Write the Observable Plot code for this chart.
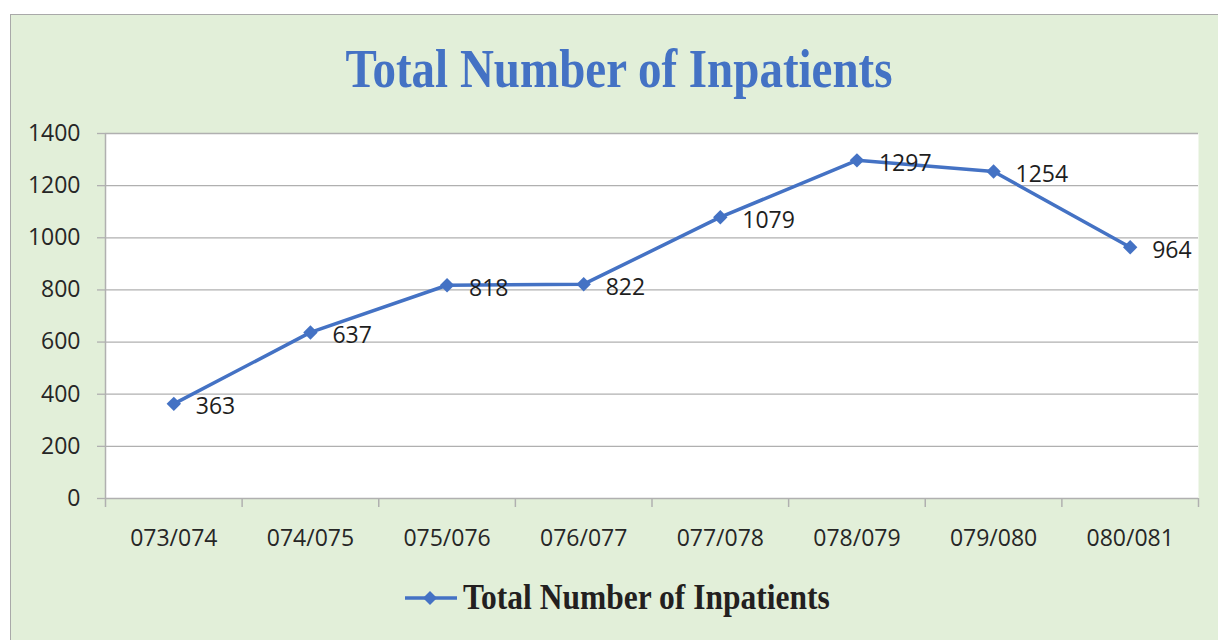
<!DOCTYPE html>
<html>
<head>
<meta charset="utf-8">
<script src="https://cdn.jsdelivr.net/npm/d3@7"></script>
<script src="https://cdn.jsdelivr.net/npm/@observablehq/plot@0.6"></script>
<style>
  html, body { margin: 0; padding: 0; background: #ffffff; width: 1218px; height: 640px; overflow: hidden; }
  #panel { position: absolute; left: 10px; top: 14px; width: 1220px; height: 640px; background: #e2efd9;
           border-left: 1.5px solid #a9a9a9; border-top: 1.5px solid #a9a9a9; }
  #title { position: absolute; left: 0; top: 48px; width: 1238px; text-align: center;
           font-family: "Liberation Serif", serif; font-weight: bold; font-size: 47px; line-height: 1;
           color: #4472c4; transform: scaleY(1.18); transform-origin: 50% 84%; white-space: nowrap; }
  #chart { position: absolute; left: 0; top: 100px; }
  #legend { position: absolute; left: 405px; top: 580px; display: flex; align-items: center; }
  #legend span { font-family: "Liberation Serif", serif; font-weight: bold; font-size: 31.5px; color: #231f20;
                 margin-left: 6px; display: inline-block; transform: scaleY(1.15); white-space: nowrap; }
</style>
</head>
<body>
<div id="panel"></div>
<div id="title">Total Number of Inpatients</div>
<div id="chart"></div>
<div id="legend">
  <svg width="52" height="16" viewBox="0 0 52 16"><line x1="0" y1="8" x2="52" y2="8" stroke="#4472c4" stroke-width="3.5"/><path d="M25,1 L32,8 L25,15 L18,8 Z" fill="#4472c4"/></svg>
  <span>Total Number of Inpatients</span>
</div>
<script>
const categories = ["073/074", "074/075", "075/076", "076/077", "077/078", "078/079", "079/080", "080/081"];
const inpatients = [363, 637, 818, 822, 1079, 1297, 1254, 964];
const yTicks = [0, 200, 400, 600, 800, 1000, 1200, 1400];
const seriesName = "Total Number of Inpatients";

const data = categories.map((c, i) => ({year: c, value: inpatients[i]}));

const W = 1218, H = 470, ML = 105, MR = 20, MT = 33, MB = 72;
const half = (W - ML - MR) / categories.length / 2;
const blue = "#4472c4";
const grid = "#b0b0b0";

const chart = Plot.plot({
  width: W,
  height: H,
  marginLeft: ML,
  marginRight: MR,
  marginTop: MT,
  marginBottom: MB,
  style: {background: "transparent", fontFamily: "'Open Sans', sans-serif", color: "#262626"},
  x: {type: "point", domain: categories, padding: 0.5, align: 0.5, round: false},
  y: {domain: [0, 1400]},
  marks: [
    Plot.frame({fill: "white", stroke: "none"}),
    Plot.gridY(yTicks, {stroke: grid, strokeOpacity: 1, strokeWidth: 1.3}),
    Plot.ruleX([categories[0]], {x: d => d, y1: 1400, y2: 0, dx: -half, insetBottom: -9, stroke: grid, strokeWidth: 1.5}),
    Plot.ruleX(categories, {x: d => d, y1: 0, y2: 0, dx: half, insetBottom: -9, stroke: grid, strokeWidth: 1.5}),
    Plot.axisY(yTicks, {tickSize: 8, tickPadding: 17, fontSize: 23, tickFormat: d => String(d), stroke: grid, strokeWidth: 1.3, label: null}),
    Plot.axisX({tickSize: 0, tickPadding: 31, fontSize: 23, label: null}),
    Plot.lineY(data, {x: "year", y: "value", stroke: blue, strokeWidth: 3.5}),
    Plot.dot(data, {x: "year", y: "value", symbol: "diamond2", r: 6.5, fill: blue, stroke: "none"}),
    Plot.text(data, {x: "year", y: "value", text: d => String(d.value), dx: 22, dy: 3, textAnchor: "start", lineAnchor: "middle", fontSize: 23, fill: "#1e1e1e"})
  ]
});
document.getElementById("chart").appendChild(chart);
</script>
</body>
</html>
